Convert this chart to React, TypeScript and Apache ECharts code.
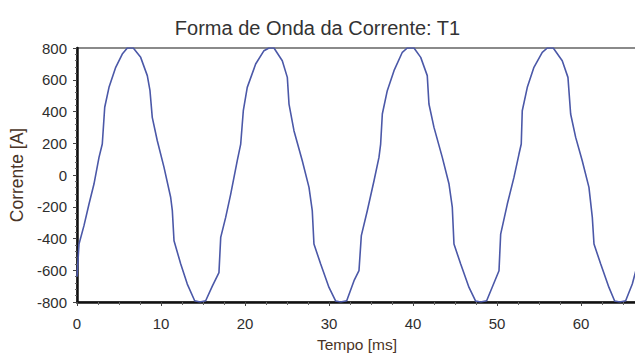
import React, { useEffect, useRef } from "react";
import * as echarts from "echarts";

const title = "Forma de Onda da Corrente: T1";
const xName = "Tempo [ms]";
const yName = "Corrente [A]";

// time in ms
const tempo = [
  0.0, 0.24, 0.83, 1.43, 2.02, 2.62, 3.01, 3.3, 3.81, 4.61, 5.39, 5.99, 6.7, 7.58, 8.37, 8.69, 8.96, 9.56, 10.36, 11.15, 11.35, 11.55, 12.35, 13.13, 14.01, 14.64, 15.32, 16.11,
  16.9, 17.11, 17.7, 18.3, 19.08, 19.49, 19.8, 20.27, 21.27, 22.26, 22.86, 23.45, 24.44, 25.04, 25.24, 25.83, 26.82, 27.62, 28.01, 28.21, 29.01, 30.0, 30.8, 31.39, 32.11, 32.98,
  33.57, 33.85, 34.56, 35.36, 35.95, 36.15, 36.35, 36.94, 37.74, 38.73, 39.32, 40.12, 40.92, 41.7, 41.9, 42.5, 43.49, 44.29, 44.68, 44.88, 45.68, 46.67, 47.46, 48.06, 48.77, 49.64,
  50.24, 50.44, 51.23, 52.02, 52.62, 52.89, 53.01, 53.61, 54.4, 55.39, 55.99, 56.7, 57.77, 58.45, 58.77, 59.37, 60.15, 60.95, 61.35, 61.55, 62.35, 63.33, 64.01, 64.64, 65.32, 66.11, 66.55,
];

// current in A
const corrente = [
  -640, -435, -319, -183, -57, 111, 195, 427, 552, 678, 762, 800, 800, 741, 626, 531, 363, 216, 48, -140, -225, -414, -561, -687, -792, -800, -792, -700,
  -615, -393, -267, -120, 90, 195, 405, 552, 699, 783, 800, 800, 720, 615, 447, 279, 90, -78, -225, -435, -561, -708, -794, -800, -792, -666,
  -603, -382, -225, -36, 111, 195, 384, 531, 657, 773, 800, 800, 741, 626, 447, 300, 111, -57, -203, -435, -561, -708, -794, -800, -792, -680,
  -603, -372, -183, -15, 132, 195, 405, 552, 678, 773, 800, 800, 720, 615, 384, 237, 90, -78, -267, -435, -561, -708, -794, -800, -792, -687, -600,
];

const FONT = "'Liberation Sans', Arial, sans-serif";

export default function App() {
  const ref = useRef<HTMLDivElement>(null);
  useEffect(() => {
    if (!ref.current) return;
    const chart = echarts.init(ref.current, undefined, { renderer: "svg" });
    const data = tempo.map((t, i) => [t, corrente[i]]);
    chart.setOption({
      animation: false,
      backgroundColor: "#ffffff",
      title: {
        text: title,
        left: "center",
        top: 13,
        textStyle: { fontFamily: FONT, fontSize: 20, fontWeight: "normal", color: "#333333" },
      },
      grid: {
        left: 77,
        right: -2,
        top: 48,
        bottom: 54,
        outerBoundsMode: "none",
        containLabel: false,
        show: true,
        borderColor: "#8a8a8a",
        borderWidth: 2,
      },
      xAxis: {
        type: "value",
        min: 0,
        max: 66.67,
        interval: 10,
        name: xName,
        nameLocation: "middle",
        nameGap: 34,
        nameTextStyle: { fontFamily: FONT, fontSize: 15.5, color: "#4a3426" },
        axisLine: { show: true, onZero: false, lineStyle: { color: "#111", width: 2.5 } },
        axisTick: { show: true, length: 4, lineStyle: { color: "#444" } },
        minorTick: { show: true, splitNumber: 4, length: 3, lineStyle: { color: "#666" } },
        axisLabel: {
          margin: 14,
          showMaxLabel: false,
          fontFamily: FONT,
          fontSize: 15,
          color: "#2e2e2e",
          formatter: (v: number) => (Math.abs(v % 10) < 1e-6 ? String(v) : ""),
        },
        splitLine: { show: false },
      },
      yAxis: {
        type: "value",
        min: -800,
        max: 800,
        interval: 200,
        name: yName,
        nameLocation: "middle",
        nameGap: 50,
        nameTextStyle: { fontFamily: FONT, fontSize: 17.5, color: "#4a3426" },
        axisLine: { show: true, onZero: false, lineStyle: { color: "#111", width: 2.5 } },
        axisTick: { show: true, length: 4, lineStyle: { color: "#444" } },
        minorTick: { show: true, splitNumber: 5, length: 2, lineStyle: { color: "#666" } },
        axisLabel: { margin: 10, fontFamily: FONT, fontSize: 15, color: "#2e2e2e" },
        splitLine: { show: false },
      },
      series: [
        {
          type: "line",
          data,
          showSymbol: false,
          symbol: "none",
          clip: true,
          lineStyle: { color: "#4b58a8", width: 1.6 },
        },
      ],
    });
    return () => chart.dispose();
  }, []);
  return (
    <div
      ref={ref}
      style={{ position: "fixed", left: 0, top: 0, width: 635, height: 356 }}
    />
  );
}
